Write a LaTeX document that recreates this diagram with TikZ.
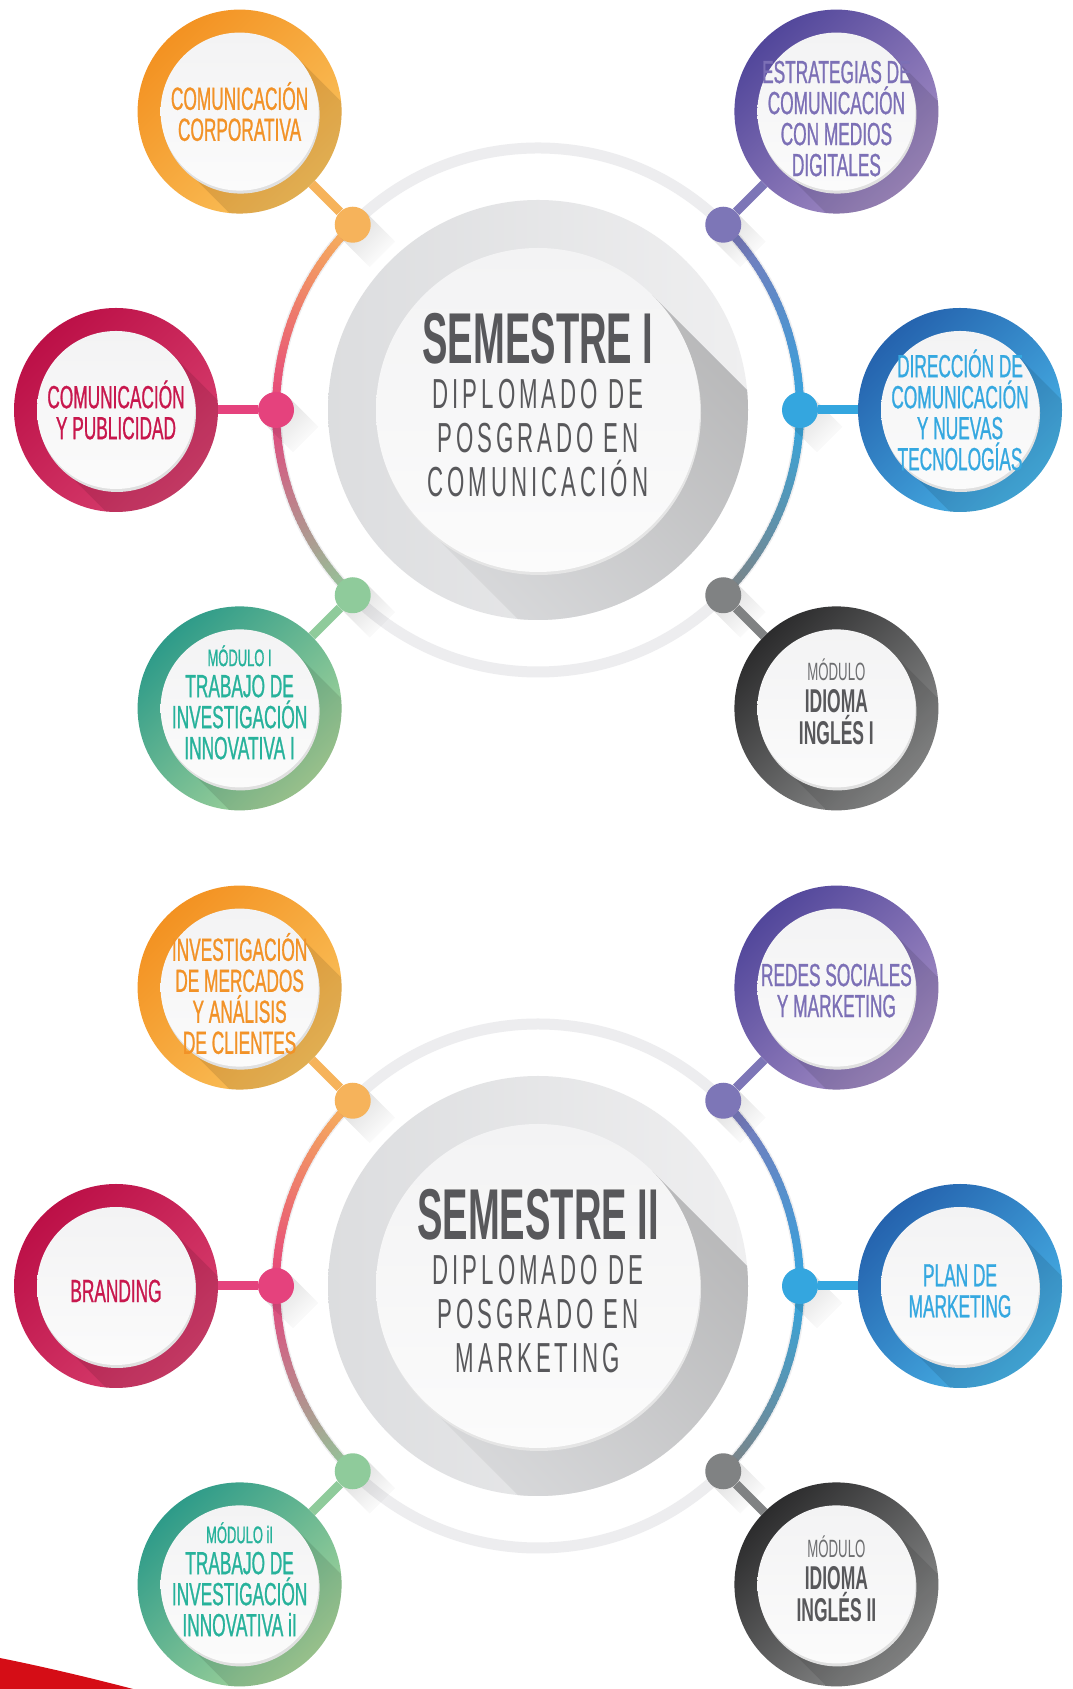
\documentclass[tikz,border=0pt]{standalone}
\usepackage{fontspec}
\setmainfont{Liberation Sans}
\newfontfamily\narrow[FakeStretch=0.53]{Liberation Sans}
\newfontfamily\satfont[FakeStretch=0.54,FakeBold=0.8]{Liberation Sans}
\newfontfamily\spaced[FakeStretch=0.53,LetterSpace=9.5]{Liberation Sans}
\usetikzlibrary{calc,fadings}

\definecolor{orA}{HTML}{F39222}
\definecolor{orB}{HTML}{FAC25C}
\definecolor{orT}{HTML}{F29227}
\definecolor{orD}{HTML}{F6B35B}
\definecolor{crA}{HTML}{BC1047}
\definecolor{crB}{HTML}{D8406F}
\definecolor{crT}{HTML}{C8174D}
\definecolor{crD}{HTML}{E5427D}
\definecolor{grA}{HTML}{2E9B89}
\definecolor{grB}{HTML}{A9D69B}
\definecolor{grT}{HTML}{27B29B}
\definecolor{grD}{HTML}{8FCB9B}
\definecolor{puA}{HTML}{52479B}
\definecolor{puB}{HTML}{A58EC5}
\definecolor{puT}{HTML}{7C70B6}
\definecolor{puD}{HTML}{7D76B7}
\definecolor{blA}{HTML}{2563AE}
\definecolor{blB}{HTML}{48B4E8}
\definecolor{blT}{HTML}{35A8E0}
\definecolor{blD}{HTML}{34A6DF}
\definecolor{gyA}{HTML}{2C2C2D}
\definecolor{gyB}{HTML}{8E8F8F}
\definecolor{gyT}{HTML}{58585B}
\definecolor{gyM}{HTML}{6D6E70}
\definecolor{gyD}{HTML}{808283}
\definecolor{track}{HTML}{EDEDEF}
\definecolor{hubL}{HTML}{DCDDDF}
\definecolor{hubR}{HTML}{EFEFF0}
\definecolor{shadeD}{HTML}{B4B4B5}
\definecolor{discT}{HTML}{F3F3F4}
\definecolor{discB}{HTML}{FBFBFB}
\definecolor{hubtext}{HTML}{58585B}
\definecolor{brandred}{HTML}{D50D16}

\tikzstyle{satring}=[circle,inner sep=0pt,minimum size=204pt]
\tikzstyle{sattext}=[inner sep=0pt,align=center,font=\satfont\fontsize{32}{31}\selectfont]
\tikzstyle{idioma}=[sattext,text=gyT,font=\narrow\bfseries\fontsize{33}{32}\selectfont]
\tikzstyle{dot}=[circle,inner sep=0pt,minimum size=36pt]
\tikzstyle{link}=[line width=9pt]
\tikzstyle{arcline}=[line width=8pt]
\tikzstyle{hub}=[circle,inner sep=0pt,minimum size=324pt,align=center,text=hubtext,font=\fontsize{42}{44}\selectfont]

\begin{document}
\begin{tikzpicture}[x=1pt,y=1pt]
\useasboundingbox (0,0) rectangle (1073,1689);
\fill[white] (0,0) rectangle (1073,1689);

% rings, hubs and satellite discs
\foreach \half/\cy in {a/1279,b/403} {
  \coordinate (c\half) at (538,\cy);
  \draw[line width=11pt,track] (c\half) circle (262);
  \foreach \k [evaluate=\k as \q using 100-\k*100/45] in {0,...,44} {
    \draw[arcline,orD!\q!crD] ($(c\half)+(135+\k:262)$) arc[start angle=135+\k,delta angle=1.4,radius=262];
    \draw[arcline,crD!\q!grD] ($(c\half)+(180+\k:262)$) arc[start angle=180+\k,delta angle=1.4,radius=262];
    \draw[arcline,puD!\q!blD] ($(c\half)+(45-\k:262)$) arc[start angle=45-\k,delta angle=-1.4,radius=262];
    \draw[arcline,blD!\q!gyD] ($(c\half)+(-\k:262)$) arc[start angle=-\k,delta angle=-1.4,radius=262];
  }
  \shade[left color=hubL,right color=hubR] (c\half) circle (210);
  \begin{scope}
    \clip (c\half) circle (210);
    \shade[top color=shadeD,bottom color=hubL,shading angle=-45] ($(c\half)+(45:162)$) -- ++(-45:300) -- ($(c\half)+(225:162)+(-45:300)$) -- ($(c\half)+(225:162)$) -- cycle;
  \end{scope}
  \fill[black!10] ($(c\half)+(1,-3)$) circle (162);
  \shade[top color=discT,bottom color=discB] (c\half) circle (162);
  \foreach \ang/\colA/\colB [count=\i] in {135/orA/orB,180/crA/crB,225/grA/grB,45/puA/puB,0/blA/blB,-45/gyA/gyB} {
    \coordinate (p\half\i) at ($(c\half)+(\ang:422)$);
    \shade[top color=\colA,bottom color=\colB,shading angle=45] (p\half\i) circle (102);
    \begin{scope}
      \clip (p\half\i) circle (102);
      \fill[black,opacity=0.1] ($(p\half\i)+(45:79)$) -- ++(-45:200) -- ($(p\half\i)+(225:79)+(-45:200)$) -- ($(p\half\i)+(225:79)$) -- cycle;
    \end{scope}
    \fill[black!12] ($(p\half\i)+(1,-3)$) circle (79);
    \shade[top color=discT,bottom color=discB] (p\half\i) circle (79);
    \node (\half\i) [satring] at (p\half\i) {};
  }
}

% semester I
\node (hubA) [hub,yshift=5pt] at (ca) {{\narrow\bfseries\fontsize{72}{72}\selectfont SEMESTRE I}\\[1pt]{\spaced DIPLOMADO DE}\\{\spaced POSGRADO EN}\\{\spaced COMUNICACIÓN}};
\node (a1t) [sattext,text=orT] at (pa1) {COMUNICACIÓN\\CORPORATIVA};
\node (a2t) [sattext,text=crT] at (pa2) {COMUNICACIÓN\\Y PUBLICIDAD};
\node (a3t) [sattext,text=grT,yshift=6pt] at (pa3) {{\fontsize{24}{26}\selectfont MÓDULO I}\\TRABAJO DE\\INVESTIGACIÓN\\INNOVATIVA I};
\node (a4t) [sattext,text=puT,yshift=-7pt] at (pa4) {ESTRATEGIAS DE\\COMUNICACIÓN\\CON MEDIOS\\DIGITALES};
\node (a5t) [sattext,text=blT] at (pa5) {DIRECCIÓN DE\\COMUNICACIÓN\\Y NUEVAS\\TECNOLOGÍAS};
\node (a6t) [idioma,yshift=7pt] at (pa6) {{\mdseries\color{gyM}\fontsize{25}{28}\selectfont MÓDULO}\\IDIOMA\\INGLÉS I};

% semester II
\node (hubB) [hub,yshift=5pt] at (cb) {{\narrow\bfseries\fontsize{72}{72}\selectfont SEMESTRE II}\\[1pt]{\spaced DIPLOMADO DE}\\{\spaced POSGRADO EN}\\{\spaced MARKETING}};
\node (b1t) [sattext,text=orT,yshift=-6pt] at (pb1) {INVESTIGACIÓN\\DE MERCADOS\\Y ANÁLISIS\\DE CLIENTES};
\node (b2t) [sattext,text=crT,yshift=-5pt] at (pb2) {BRANDING};
\node (b3t) [sattext,text=grT,yshift=5pt] at (pb3) {{\fontsize{24}{26}\selectfont MÓDULO iI}\\TRABAJO DE\\INVESTIGACIÓN\\INNOVATIVA iI};
\node (b4t) [sattext,text=puT,yshift=-3pt] at (pb4) {REDES SOCIALES\\Y MARKETING};
\node (b5t) [sattext,text=blT,yshift=-5pt] at (pb5) {PLAN DE\\MARKETING};
\node (b6t) [idioma,yshift=6pt] at (pb6) {{\mdseries\color{gyM}\fontsize{25}{28}\selectfont MÓDULO}\\IDIOMA\\INGLÉS II};

% dots and links
\foreach \half in {a,b} {
  \foreach \ang/\colD [count=\i] in {135/orD,180/crD,225/grD,45/puD,0/blD,-45/gyD} {
    \fill[black,opacity=0.14,path fading=east,fading transform={rotate=-45}] ($(c\half)+(\ang:262)+(45:18)$) -- ++(-45:42) -- ++(225:36) -- ++(135:42) -- cycle;
    \node (d\half\i) [dot,fill=\colD] at ($(c\half)+(\ang:262)$) {};
    \draw[link,\colD] (d\half\i) -- (\half\i);
  }
}

\fill[brandred] (0,0) -- (0,31) .. controls (45,22) and (95,10) .. (133,0) -- cycle;
\end{tikzpicture}
\end{document}
